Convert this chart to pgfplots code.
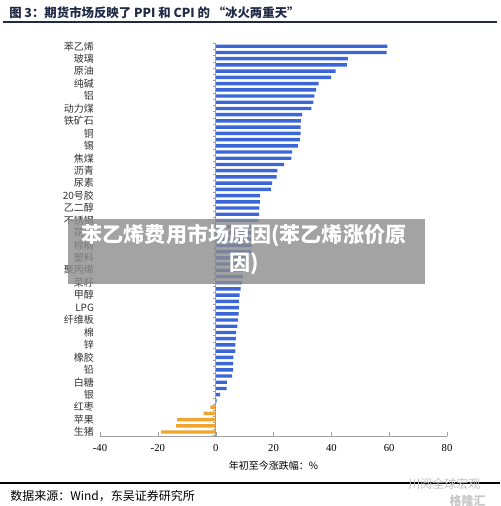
\documentclass[border=0pt]{standalone}
\usepackage{pgfplots}
\usepackage{pgfplotstable}
\pgfplotsset{compat=1.18}
\usepackage{fontspec}
\setmainfont{Liberation Serif}
\newfontfamily\cjk{Noto Sans CJK SC}
\definecolor{barblue}{HTML}{3A66D8}
\definecolor{barorange}{HTML}{F0A52E}
\definecolor{axgray}{HTML}{A0A0A0}
\definecolor{titlecol}{HTML}{1F2A44}

\pgfplotstableread{
y x
62 59.4
61 59.1
60 45.7
59 45.4
58 41.5
57 39.9
56 35.6
55 34.7
54 34.1
53 33.8
52 33.1
51 29.9
50 29.5
49 29.4
48 29.4
47 29.1
46 28.4
45 26.4
44 26.2
43 23.7
42 21.3
41 21.1
40 19.5
39 19.1
38 15.4
37 15.3
36 15.1
35 15.0
34 14.8
33 14.6
32 13.0
31 12.5
30 12.4
29 12.3
28 10.6
27 9.8
26 9.5
25 9.4
24 9.1
23 8.6
22 8.3
21 8.0
20 8.0
19 7.9
18 7.7
17 7.5
16 7.1
15 7.0
14 6.8
13 6.8
12 6.1
11 6.0
10 6.0
9 5.7
8 3.9
7 3.8
6 1.5
5 0.3
}\bluedata

\pgfplotstableread{
y x
4 -1.8
3 -4.2
2 -13.3
1 -13.7
0 -18.9
}\orangedata

\begin{document}
\begin{tikzpicture}
\path[use as bounding box] (0pt,0pt) rectangle (375pt,379.5pt);
\node[anchor=west,inner sep=0pt,text=titlecol,font=\cjk\bfseries\fontsize{9.3}{10}\selectfont] at (6.75pt,370.1pt) {图 3：期货市场反映了 PPI 和 CPI 的 “冰火两重天”};
\draw[line width=1.6pt,titlecol] (2.25pt,363pt) -- (372.75pt,363pt);

\begin{axis}[
  at={(75pt,52.5pt)}, anchor=south west, scale only axis,
  width=260.25pt, height=295.1pt,
  xmin=-40, xmax=80, ymin=-0.64, ymax=62.6,
  axis x line*=bottom, axis y line*=left,
  y axis line style={draw=none},
  x axis line style={axgray},
  xtick={-40,-20,...,80},
  tick align=inside,
  major tick length=3pt,
  xtick style={axgray},
  ytick style={draw=none},
  ytick={0,2,...,62},
  yticklabels={生猪,苹果,红枣,银,白糖,铅,橡胶,锌,棉,纤维板,LPG,甲醇,菜籽,聚丙烯,塑料,棕榈,花生,不锈钢,乙二醇,20号胶,尿素,沥青,焦煤,锡,铜,铁矿石,动力煤,铝,纯碱,原油,玻璃,苯乙烯},
  yticklabel style={font=\cjk\fontsize{7.5}{8}\selectfont, text=black!80, xshift=-1pt},
  xticklabel style={font=\fontsize{8}{9}\selectfont, yshift=-3pt},
  /pgf/number format/assume math mode=true,
  xlabel={\cjk 年初至今涨跌幅：\%},
  xlabel style={font=\fontsize{7.5}{8}\selectfont, yshift=0pt},
  clip=false,
]
\addplot[xbar, bar width=0.55, bar shift=0pt, fill=barblue, draw=none] table[x=x,y=y] {\bluedata};
\addplot[xbar, bar width=0.55, bar shift=0pt, fill=barorange, draw=none] table[x=x,y=y] {\orangedata};
\draw[axgray] (axis cs:0,-0.64) -- (axis cs:0,62.6);
\pgfplotsinvokeforeach{0,...,63}{\draw[axgray] (axis cs:0,#1-0.5) -- (axis cs:-1.0,#1-0.5);}
\end{axis}

\fill[black!45,opacity=0.8] (51pt,215.25pt) rectangle (318.75pt,166.5pt);
\node[text=white,font=\cjk\bfseries\fontsize{15.8}{16}\selectfont,inner sep=0pt] at (183pt,203pt) {苯乙烯费用市场原因(苯乙烯涨价原};
\node[text=white,font=\cjk\bfseries\fontsize{15.8}{16}\selectfont,inner sep=0pt] at (183pt,181.5pt) {因)};

\draw[line width=1.2pt,black] (0pt,17.25pt) -- (375pt,17.25pt);
\node[anchor=west,inner sep=0pt,font=\cjk\fontsize{9}{10}\selectfont] at (7.5pt,7.1pt) {数据来源：Wind，东吴证券研究所};
\node[anchor=west,inner sep=0pt,text=black!25,font=\cjk\fontsize{9}{10}\selectfont] at (306pt,16.5pt) {川阅全球宏观};
\node[anchor=west,inner sep=0pt,text=black!22,font=\cjk\bfseries\fontsize{9}{10}\selectfont] at (337pt,4pt) {格隆汇};
\end{tikzpicture}
\end{document}
